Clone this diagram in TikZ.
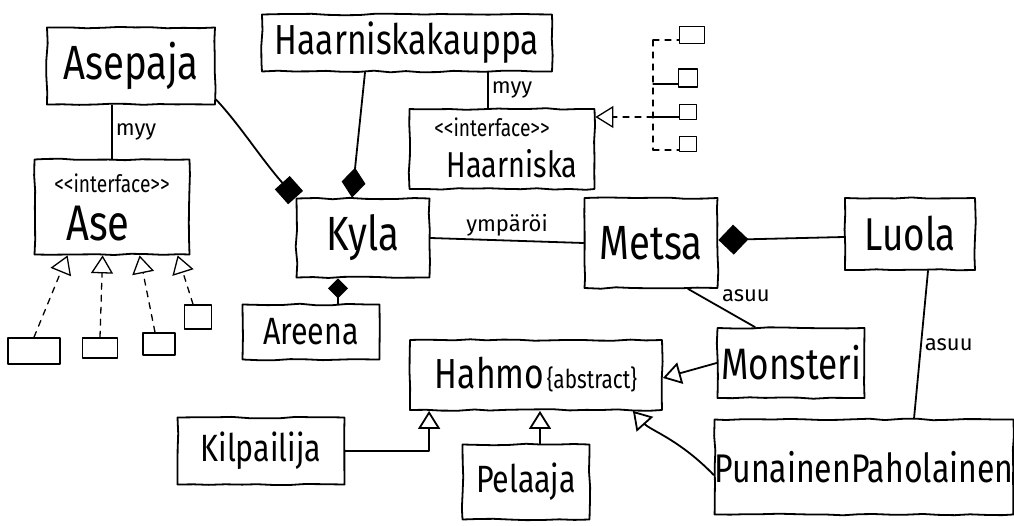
\documentclass[tikz,border=0pt]{standalone}
\usepackage{fontspec}
\setmainfont{Fira Sans}
\usepackage{graphicx}
\usetikzlibrary{arrows.meta,decorations.pathmorphing,calc}
\newcommand{\hw}[2]{{\fontsize{#1}{#1}\selectfont\scalebox{0.8}[1]{#2}}}
\newcommand{\iface}{{<}{<}interface{>}{>}}
\begin{document}
\pgfmathsetseed{7}
\begin{tikzpicture}[x=1pt,y=-1pt,line width=1.8pt,line join=round,line cap=round,
  box/.style={draw,rectangle,inner sep=0pt,decorate,decoration={random steps,segment length=16pt,amplitude=0.8pt}},
  sbox/.style={draw,rectangle,inner sep=0pt,line width=1.6pt},
  lbl/.style={font=\fontsize{22}{22}\selectfont,inner sep=3pt},
  txt/.style={inner sep=0pt},
  comp/.style={-{Diamond[fill=black,length=30pt,width=24pt]}},
  compsq/.style={-{Square[fill=black,length=20pt,width=20pt]}},
  inh/.style={-{Triangle[open,fill=white,length=18pt,width=22pt]}},
  real/.style={inh,dash pattern=on 6pt off 6pt,line width=1.3pt},
  bus/.style={dash pattern=on 6pt off 6pt,line width=1.3pt}]
\fill[white] (0,0) rectangle (1014,526);
\useasboundingbox (0,0) rectangle (1014,526);

% main boxes
\node[box,minimum width=168pt,minimum height=77pt] (asepaja) at (131,66) {\hw{48}{Asepaja}};
\node[box,minimum width=290pt,minimum height=57pt] (haark) at (407,43) {\hw{42}{Haarniskakauppa}};
\node[box,minimum width=155pt,minimum height=95pt] (ase) at (112,207) {};
\node[txt] (asetxt1) at (112,183) {\hw{24}{\iface}};
\node[txt] (asetxt2) at (98,224) {\hw{50}{Ase}};
\node[box,minimum width=185pt,minimum height=80pt] (haarniska) at (502,149) {};
\node[txt] (htxt1) at (492,127) {\hw{24}{\iface}};
\node[txt] (htxt2) at (512,164) {\hw{36}{Haarniska}};
\node[box,minimum width=133pt,minimum height=79pt] (kyla) at (363,238) {\hw{48}{Kyla}};
\node[box,minimum width=137pt,minimum height=55pt] (areena) at (311,332) {\hw{38}{Areena}};
\node[box,minimum width=133pt,minimum height=90pt] (metsa) at (651,243) {\hw{48}{Metsa}};
\node[box,minimum width=130pt,minimum height=72pt] (luola) at (910,234) {\hw{46}{Luola}};
\node[box,minimum width=252pt,minimum height=70pt] (hahmo) at (536,375) {\hw{42}{Hahmo} \hw{26}{\{abstract\}}};
\node[box,minimum width=147pt,minimum height=70pt] (monsteri) at (791,363) {\hw{44}{Monsteri}};
\node[box,minimum width=167pt,minimum height=67pt] (kilpailija) at (261,451) {\hw{38}{Kilpailija}};
\node[box,minimum width=127pt,minimum height=75pt] (pelaaja) at (526,482) {\hw{38}{Pelaaja}};
\node[box,minimum width=292pt,minimum height=95pt] (punainen) at (864,467) {\hw{40}{PunainenPaholainen}};

% small boxes under Ase
\node[sbox,minimum width=52pt,minimum height=26pt] (a1) at (34,351) {};
\node[sbox,minimum width=35pt,minimum height=20pt] (a2) at (100,348) {};
\node[sbox,minimum width=32pt,minimum height=22pt] (a3) at (159,344) {};
\node[sbox,minimum width=27pt,minimum height=24pt] (a4) at (198,317) {};
% small boxes right of Haarniska
\node[sbox,minimum width=25pt,minimum height=17pt] (h1) at (692,35) {};
\node[sbox,minimum width=19pt,minimum height=18pt] (h2) at (688,78) {};
\node[sbox,minimum width=17pt,minimum height=15pt] (h3) at (688,112) {};
\node[sbox,minimum width=17pt,minimum height=15pt] (h4) at (688,144) {};

% realizations of Ase
\draw[real] (a1.north) -- ([xshift=34pt]ase.south west);
\draw[real] (a2.north) -- ([xshift=69pt]ase.south west);
\draw[real] ([xshift=-4pt]a3.north) -- ([xshift=106pt]ase.south west);
\draw[real] ([xshift=-5pt]a4.north) -- ([xshift=144pt]ase.south west);

% realizations of Haarniska
\coordinate (b1) at (653,40);
\coordinate (b2) at (653,84);
\coordinate (b3) at (653,117);
\coordinate (b4) at (653,150);
\draw[bus] (b1) -- (b4);
\draw[bus] (b1) -- (b1 -| h1.west);
\draw[line width=1.3pt] (b2) -- (b2 -| h2.west);
\draw[line width=1.3pt] (b3) -- (b3 -| h3.west);
\draw[bus] (b4) -- (b4 -| h4.west);
\draw[real] (b3) -- (b3 -| haarniska.east);

% associations
\draw ([xshift=-19pt]asepaja.south) -- node[lbl,right] {myy} (ase.north);
\draw ([xshift=81pt]haark.south) -- node[lbl,right] {myy} ([xshift=-14pt]haarniska.north);
\draw (kyla.east) -- node[lbl,above,pos=0.5] {ympäröi} (metsa.west);
\draw ([xshift=37pt]metsa.south) -- node[lbl,above right,pos=0.45] {asuu} ([xshift=-36pt]monsteri.north);
\draw ([xshift=18pt]luola.south) -- node[lbl,right,pos=0.5] {asuu} ([xshift=50pt]punainen.north);

% compositions
\draw[compsq] ([yshift=6pt]asepaja.south east) .. controls (240,125) and (262,160) .. (kyla.north west);
\draw[comp] ([xshift=-42pt]haark.south) -- ([xshift=-11pt]kyla.north);
\draw[-{Diamond[fill=black,length=20pt,width=20pt]}] ([xshift=27pt]areena.north) -- ([xshift=-25pt]kyla.south);
\draw[-{Diamond[fill=black,length=30pt,width=30pt]}] ([yshift=-3pt]luola.west) -- ([yshift=3pt]metsa.east);

% inheritance
\draw[inh] (monsteri.west) -- ([yshift=-3pt]hahmo.east);
\draw[inh] (kilpailija.east) -| ([xshift=20pt]hahmo.south west);
\draw[inh] ([xshift=14pt]pelaaja.north) -- ([xshift=4pt]hahmo.south);
\draw[inh] ([yshift=-8pt]punainen.west) .. controls (680,440) and (650,430) .. ([xshift=-30pt]hahmo.south east);
\end{tikzpicture}
\end{document}
